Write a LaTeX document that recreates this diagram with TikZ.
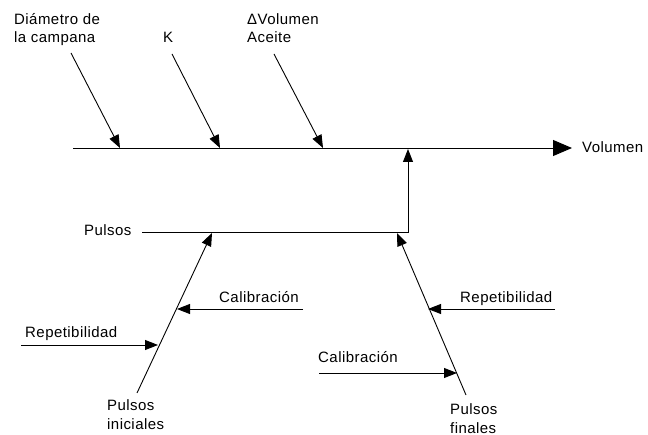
\documentclass[tikz,border=0pt]{standalone}
\usepackage{fontspec}
\setmainfont{Liberation Sans}[LetterSpace=3]
\usetikzlibrary{arrows.meta}
\begin{document}
\begin{tikzpicture}[x=1pt,y=-1pt,
  lbl/.style={inner sep=0pt, anchor=base west, align=left,
    font=\fontsize{15}{18}\selectfont},
  ln/.style={line width=0.9pt},
  arr/.style={ln, -{Triangle[length=13pt,width=10pt]}},
  bigarr/.style={ln, -{Triangle[length=19pt,width=16pt]}}]
\useasboundingbox[fill=white] (0,0) rectangle (648,435);

% spine and effect
\coordinate (spL) at (73,148);
\coordinate (spR) at (572,148);
\node[lbl] (vol) at (582,153) {Volumen};
\draw[bigarr] (spL) -- (spR);

% main causes on the spine (multi-line labels are placed by their last baseline)
\node[lbl] (diam) at (14,43) {Diámetro de\\la campana};
\node[lbl] (k) at (163,43) {K};
\node[lbl] (dvol) at (247,43) {ΔVolumen\\Aceite};
\coordinate (d1s) at (71,53);  \coordinate (d1e) at (120,148);
\coordinate (d2s) at (172,54); \coordinate (d2e) at (220,148);
\coordinate (d3s) at (274,54); \coordinate (d3e) at (323,148);
\draw[arr] (d1s) -- (d1e);
\draw[arr] (d2s) -- (d2e);
\draw[arr] (d3s) -- (d3e);

% Pulsos branch joining the spine
\node[lbl] (pul) at (84,236) {Pulsos};
\coordinate (pL) at (142,232);
\coordinate (pJ) at (408,232);
\coordinate (pT) at (408,149);
\draw[arr] (pL) -- (pJ) -- (pT);

% initial pulses branch
\node[lbl] (pini) at (107,429) {Pulsos\\iniciales};
\coordinate (iB) at (137,393);
\coordinate (iT) at (212,233);
\draw[arr] (iB) -- (iT);
\node[lbl] (cal1) at (219,303) {Calibración};
\coordinate (c1s) at (303,309); \coordinate (c1e) at (177,309);
\draw[arr] (c1s) -- (c1e);
\node[lbl] (rep1) at (25,338) {Repetibilidad};
\coordinate (r1s) at (21,345); \coordinate (r1e) at (158,345);
\draw[arr] (r1s) -- (r1e);

% final pulses branch
\node[lbl] (pfin) at (450,433) {Pulsos\\finales};
\coordinate (fB) at (466,395);
\coordinate (fT) at (397,233);
\draw[arr] (fB) -- (fT);
\node[lbl] (rep2) at (460,303) {Repetibilidad};
\coordinate (r2s) at (555,309); \coordinate (r2e) at (428,309);
\draw[arr] (r2s) -- (r2e);
\node[lbl] (cal2) at (318,363) {Calibración};
\coordinate (c2s) at (319,373); \coordinate (c2e) at (457,373);
\draw[arr] (c2s) -- (c2e);
\end{tikzpicture}
\end{document}
